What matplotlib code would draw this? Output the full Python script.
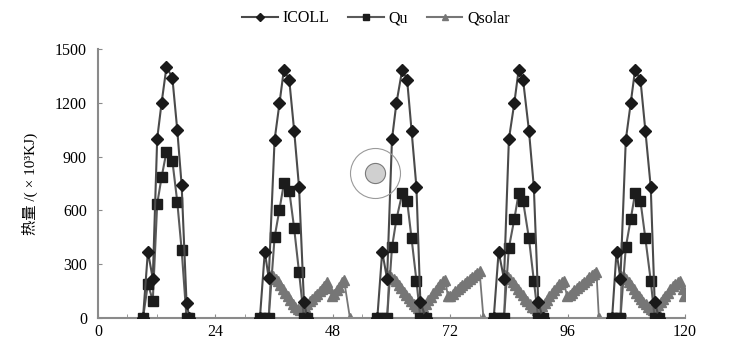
import matplotlib
matplotlib.use("Agg")
import matplotlib.pyplot as plt
from matplotlib.lines import Line2D

# time (h) of each point, one list per day (ICOLL and Qu share the steps)
t_days = [
    [9.2, 10.2, 11.2, 12.1, 13.0, 14.0, 15.2, 16.2, 17.1, 18.1, 18.7],
    [33.1, 34.1, 34.9, 36.1, 37.1, 38.0, 39.1, 40.1, 41.1, 42.1, 42.8],
    [57.1, 58.1, 59.1, 60.1, 61.0, 62.2, 63.2, 64.1, 65.1, 65.9, 67.0],
    [80.9, 81.9, 83.0, 84.0, 85.1, 86.0, 86.9, 88.1, 89.1, 90.0, 90.9],
    [105.1, 106.0, 106.8, 107.9, 108.9, 109.8, 110.9, 111.9, 113.0, 113.8, 114.7],
]
icoll_days = [
    [0, 370, 220, 1000, 1200, 1400, 1340, 1050, 740, 85, 0],
    [0, 370, 222, 993, 1197, 1385, 1327, 1045, 729, 91, 0],
    [0, 370, 218, 997, 1197, 1385, 1327, 1045, 729, 91, 0],
    [0, 370, 218, 997, 1197, 1385, 1327, 1045, 729, 91, 0],
    [0, 370, 218, 993, 1197, 1385, 1327, 1045, 729, 91, 0],
]
qu_days = [
    [0, 190, 97, 636, 785, 928, 877, 649, 380, 0, 0],
    [0, 0, 0, 450, 605, 750, 710, 500, 255, 0, 0],
    [0, 0, 0, 394, 550, 695, 652, 444, 208, 0, 0],
    [0, 0, 0, 392, 550, 695, 652, 444, 208, 0, 0],
    [0, 0, 0, 394, 550, 695, 652, 444, 208, 0, 0],
]

# Qsolar, half-hour steps (none on day 1)
ts_days = [
    [34.9, 35.3, 35.8, 36.3, 36.8, 37.3, 37.8, 38.3, 38.8, 39.3, 39.8, 40.3, 40.8,
     41.3, 41.8, 42.3, 42.8, 43.3, 43.8, 44.3, 44.8, 45.3, 45.8, 46.3, 46.8, 47.3,
     47.8, 48.3, 48.8, 49.3, 49.8, 50.3, 51.5],
    [59.1, 59.5, 60.0, 60.5, 61.0, 61.5, 62.0, 62.5, 63.0, 63.5, 64.0, 64.5, 65.0,
     65.5, 66.0, 66.5, 67.0, 67.5, 68.0, 68.5, 69.0, 69.5, 70.0, 70.5, 71.0, 71.5,
     72.0, 72.5, 73.0, 73.5, 74.0, 74.5, 75.0, 75.5, 76.0, 76.5, 77.0, 77.5, 78.0,
     78.8],
    [83.0, 83.3, 83.8, 84.3, 84.8, 85.3, 85.8, 86.3, 86.8, 87.3, 87.8, 88.3, 88.8,
     89.3, 89.8, 90.3, 90.8, 91.3, 91.8, 92.3, 92.8, 93.3, 93.8, 94.3, 94.8, 95.2,
     95.9, 96.4, 96.9, 97.4, 97.9, 98.4, 98.9, 99.4, 99.9, 100.4, 100.9, 101.4,
     101.9, 102.4],
    [106.8, 107.0, 107.5, 108.0, 108.5, 109.0, 109.5, 110.0, 110.5, 111.0, 111.5,
     112.0, 112.5, 113.0, 113.5, 114.0, 114.5, 115.0, 115.5, 116.0, 116.5, 117.0,
     117.5, 118.0, 118.5, 118.9, 119.5, 119.9],
]
qsolar_days = [
    [0, 240, 232, 220, 205, 185, 163, 142, 120, 98, 80, 64, 52,
     45, 50, 60, 78, 94, 108, 122, 136, 150, 163, 180, 203, 170,
     125, 135, 155, 175, 198, 212, 0],
    [0, 240, 230, 220, 205, 186, 166, 146, 127, 110, 94, 80, 68,
     58, 52, 62, 80, 100, 118, 138, 155, 172, 190, 204, 212, 125,
     122, 135, 148, 160, 172, 183, 194, 205, 216, 228, 240, 252, 262,
     0],
    [0, 238, 230, 218, 202, 184, 164, 144, 126, 108, 92, 78, 64,
     54, 46, 52, 66, 84, 102, 120, 138, 156, 172, 188, 200, 205,
     120, 130, 142, 154, 166, 178, 190, 202, 214, 226, 238, 248,
     258, 0],
    [0, 236, 228, 216, 200, 182, 162, 142, 124, 106, 90, 76, 62,
     52, 46, 54, 70, 88, 106, 124, 142, 160, 176, 190, 200, 205,
     160, 125],
]

c_icoll = "#4a4a4a"
c_qu = "#5a5a5a"
c_qsolar = "#767676"

plt.rcParams["font.family"] = ["Liberation Serif", "Noto Sans CJK SC"]
fig = plt.figure(figsize=(7.33, 3.52), dpi=100)
ax = fig.add_axes([0.1337, 0.0966, 0.8008, 0.7642])

for t, v in zip(ts_days, qsolar_days):
    ax.plot(t, v, color=c_qsolar, lw=1.3, marker="^", ms=7.5,
            mfc=c_qsolar, mec=c_qsolar, zorder=2)
for t, v in zip(t_days, qu_days):
    ax.plot(t, v, color=c_qu, lw=1.5, marker="s", ms=7,
            mfc="#1c1c1c", mec="#1c1c1c", zorder=3)
for t, v in zip(t_days, icoll_days):
    ax.plot(t, v, color=c_icoll, lw=1.5, marker="D", ms=6.5,
            mfc="#1a1a1a", mec="#1a1a1a", zorder=4)

ax.set_xlim(0, 120)
ax.set_ylim(0, 1500)
ax.set_xticks([0, 24, 48, 72, 96, 120])
ax.set_xticks(range(0, 121, 6), minor=True)
ax.set_yticks([0, 300, 600, 900, 1200, 1500])
for side in ["top", "right"]:
    ax.spines[side].set_visible(False)
for side in ["left", "bottom"]:
    ax.spines[side].set_color("#8a8a8a")
    ax.spines[side].set_linewidth(1.5)
ax.tick_params(axis="both", which="major", labelsize=11.5, color="#8a8a8a",
               direction="in", length=3, pad=8)
ax.tick_params(axis="x", which="minor", color="#8a8a8a", direction="in", length=3)
ax.tick_params(axis="x", which="major", pad=4)
ax.set_ylabel("热量 /( × 10³KJ)", fontsize=11, labelpad=12)

handles = [
    Line2D([], [], color=c_icoll, lw=1.5, marker="D", ms=4, mfc="#1a1a1a", mec="#1a1a1a"),
    Line2D([], [], color=c_qu, lw=1.5, marker="s", ms=5, mfc="#1c1c1c", mec="#1c1c1c"),
    Line2D([], [], color=c_qsolar, lw=1.5, marker="^", ms=5, mfc=c_qsolar, mec=c_qsolar),
]
fig.legend(handles, ["ICOLL", "Qu", "Qsolar"], loc="center", ncol=3,
           bbox_to_anchor=(0.513, 0.948), frameon=False, fontsize=11.5,
           handlelength=2.2, handletextpad=0.3, columnspacing=1.2)

# grey circle mark drawn over the plot
fig.add_artist(Line2D([0.5116], [0.5085], transform=fig.transFigure, marker="o",
                      ms=36, mfc="none", mec="#9a9a9a", mew=0.8, ls="none"))
fig.add_artist(Line2D([0.5116], [0.5085], transform=fig.transFigure, marker="o",
                      ms=14.5, mfc="#d0d0d0", mec="#7a7a7a", mew=0.8, ls="none"))

fig.savefig("out.png", dpi=100)
